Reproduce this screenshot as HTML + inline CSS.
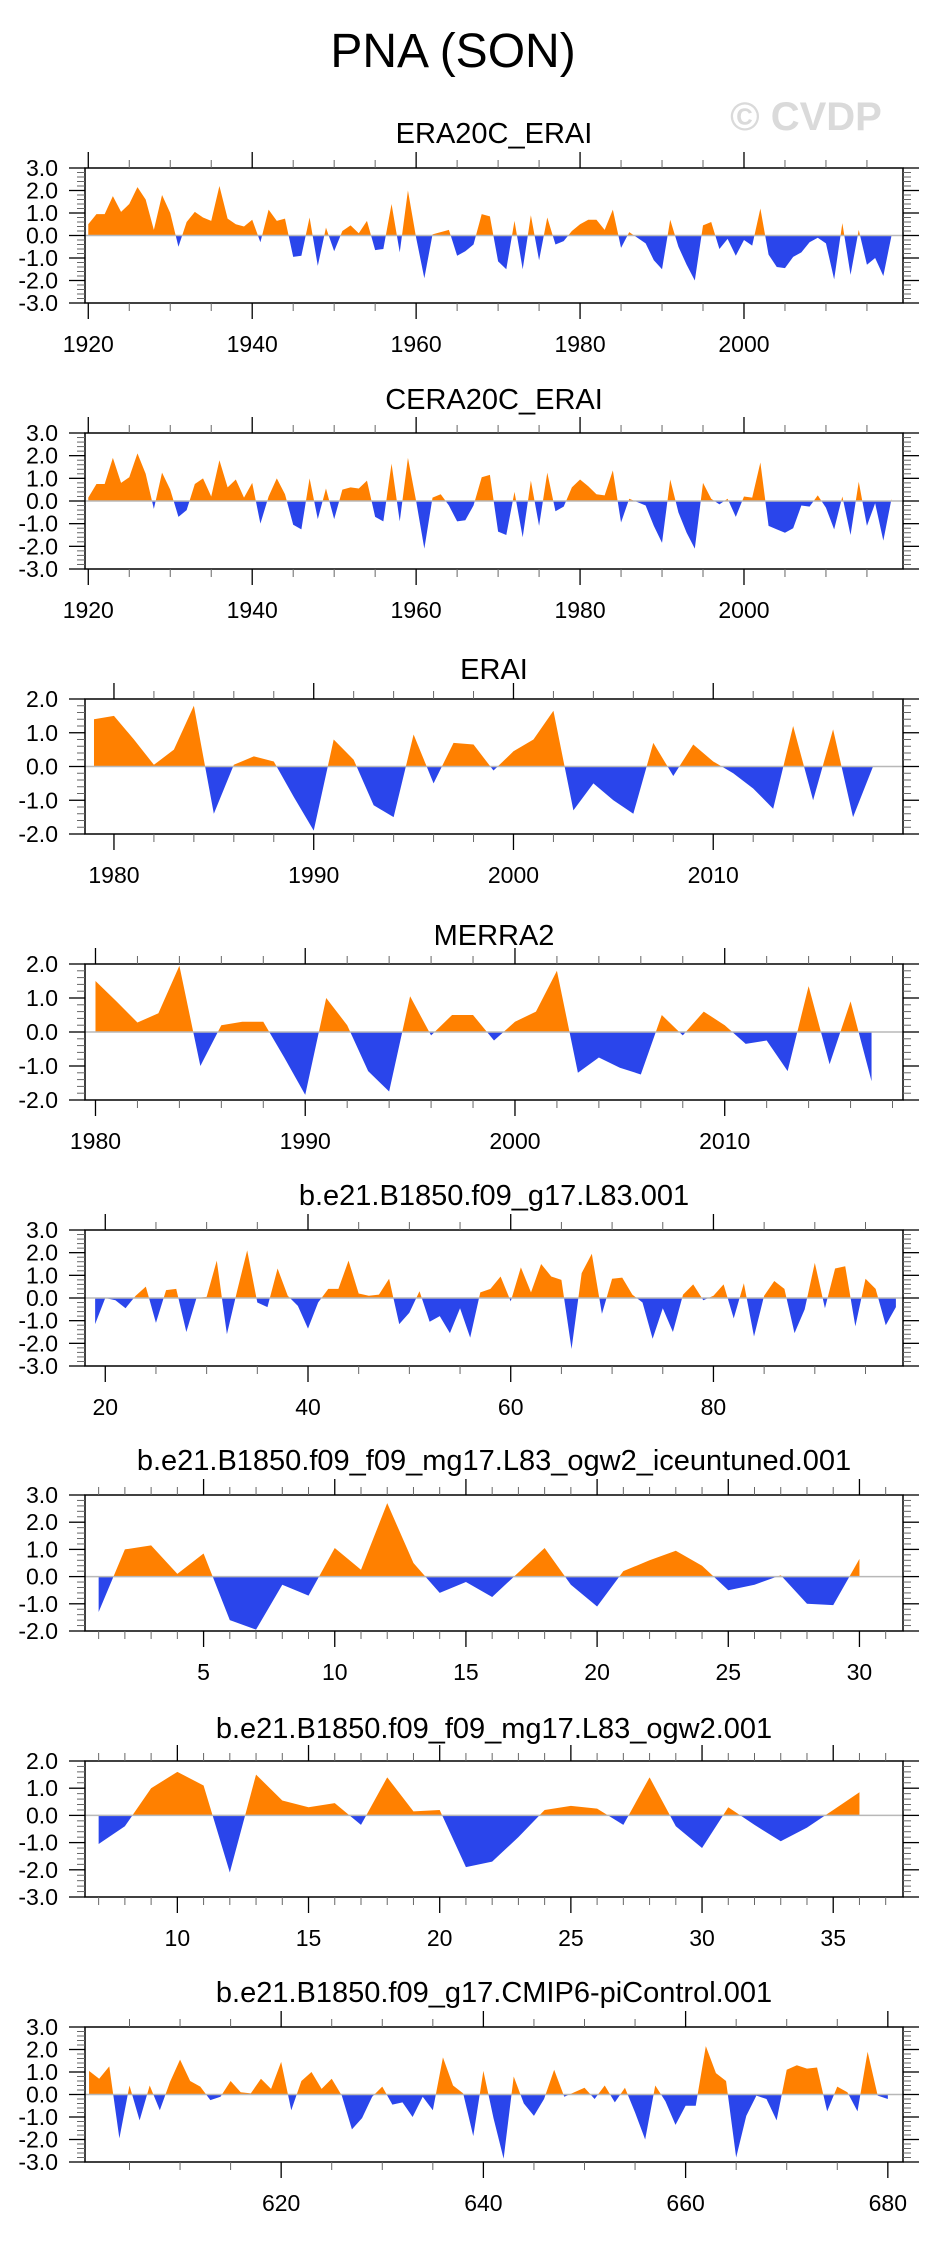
<!DOCTYPE html>
<html><head><meta charset="utf-8">
<style>
html,body{margin:0;padding:0;background:#fff;}
svg{display:block;font-family:"Liberation Sans",Arial,sans-serif;}
</style></head>
<body>
<svg id="fig" width="930" height="2241" viewBox="0 0 930 2241" xmlns="http://www.w3.org/2000/svg">
<rect x="0" y="0" width="930" height="2241" fill="#fff"/>
<text x="453" y="67" font-size="48" text-anchor="middle" fill="#000">PNA (SON)</text>
<text x="806" y="130" font-size="40" font-weight="bold" text-anchor="middle" fill="#dadada">© CVDP</text>
<g id="plots"></g>
</svg>
<script>
// ---------- data ----------
const era20cStart = 1920;
const era20cValues = [0.5,0.95,0.95,1.75,1.05,1.4,2.15,1.6,0.25,1.8,1.0,-0.5,0.6,1.05,0.8,0.65,2.2,0.75,0.5,0.4,
0.7,-0.3,1.15,0.65,0.75,-0.95,-0.9,0.8,-1.35,0.35,-0.7,0.2,0.45,0.1,0.65,-0.65,-0.6,1.4,-0.75,2.0,
-0.1,-1.9,0.05,0.15,0.25,-0.9,-0.7,-0.4,0.95,0.85,-1.15,-1.5,0.65,-1.5,0.9,-1.1,0.8,-0.4,-0.25,0.2,
0.5,0.7,0.7,0.25,1.15,-0.55,0.15,-0.1,-0.35,-1.1,-1.5,0.7,-0.5,-1.3,-2.0,0.45,0.6,-0.6,-0.15,-0.9,
-0.2,-0.45,1.2,-0.85,-1.4,-1.45,-0.95,-0.75,-0.3,-0.1,-0.35,-1.95,0.55,-1.75,0.25,-1.3,-1.0,-1.8,0.0];
const cera20cStart = 1920;
const cera20cValues = [0.15,0.75,0.75,1.9,0.8,1.05,2.1,1.2,-0.35,1.25,0.5,-0.7,-0.4,0.75,1.0,0.2,1.8,0.6,0.95,0.15,
0.8,-1.0,0.2,1.0,0.3,-1.05,-1.25,1.0,-0.8,0.55,-0.8,0.5,0.6,0.55,0.9,-0.7,-0.9,1.65,-0.9,1.9,
0.0,-2.1,0.15,0.3,-0.2,-0.9,-0.85,-0.2,1.05,1.15,-1.35,-1.5,0.4,-1.6,0.9,-1.1,1.25,-0.45,-0.25,0.6,
0.95,0.65,0.3,0.25,1.35,-0.95,0.1,-0.05,-0.2,-1.1,-1.85,0.95,-0.5,-1.4,-2.1,0.8,0.1,-0.15,0.1,-0.7,
0.2,0.15,1.7,-1.1,-1.25,-1.4,-1.2,-0.2,-0.25,0.25,-0.3,-1.25,0.2,-1.5,0.85,-1.1,-0.1,-1.75,0.1];
const eraiStart = 1979;
const eraiValues = [1.4,1.5,0.8,0.05,0.5,1.8,-1.4,0.05,0.3,0.15,-0.9,-1.9,0.8,0.2,-1.15,-1.5,0.95,-0.5,0.7,0.65,
-0.12,0.45,0.8,1.65,-1.3,-0.5,-1.0,-1.4,0.7,-0.28,0.65,0.15,-0.2,-0.65,-1.25,1.2,-1.0,1.1,-1.5,0.0];
const merra2Start = 1980;
const merra2Values = [1.5,0.9,0.28,0.55,1.95,-1.0,0.2,0.3,0.3,-0.75,-1.85,1.0,0.2,-1.15,-1.75,1.05,-0.1,0.5,0.5,-0.25,
0.3,0.6,1.8,-1.2,-0.75,-1.05,-1.25,0.5,-0.1,0.6,0.2,-0.35,-0.25,-1.15,1.35,-0.95,0.9,-1.45];
const l83Start = 19;
const l83Values = [-1.15,0.0,-0.1,-0.45,0.1,0.5,-1.1,0.35,0.4,-1.5,0.0,0.05,1.65,-1.6,0.3,2.1,-0.2,-0.4,1.3,0.1,
-0.35,-1.35,-0.2,0.4,0.4,1.65,0.2,0.1,0.15,0.85,-1.15,-0.65,0.3,-1.05,-0.8,-1.55,-0.45,-1.75,0.25,0.4,
0.95,-0.15,1.35,0.25,1.5,0.95,0.8,-2.25,1.1,1.95,-0.7,0.85,0.9,0.15,-0.2,-1.8,-0.45,-1.5,0.15,0.6,
-0.1,0.1,0.6,-0.9,0.65,-1.7,0.1,0.75,0.4,-1.55,-0.5,1.55,-0.45,1.3,1.4,-1.25,0.85,0.4,-1.2,-0.4];
const iceStart = 1;
const iceValues = [-1.3,1.0,1.15,0.1,0.85,-1.6,-1.95,-0.3,-0.7,1.05,0.25,2.7,0.5,-0.6,-0.2,-0.75,0.15,1.05,-0.3,-1.1,
0.2,0.6,0.95,0.4,-0.5,-0.3,0.05,-1.0,-1.05,0.65];
const ogw2Start = 7;
const ogw2Values = [-1.05,-0.4,1.0,1.6,1.1,-2.1,1.5,0.55,0.3,0.45,-0.35,1.4,0.15,0.2,-1.9,-1.7,-0.8,0.2,0.35,0.25,
-0.35,1.4,-0.4,-1.2,0.3,-0.35,-0.95,-0.45,0.2,0.85];
const piStart = 601;
const piValues = [1.05,0.7,1.25,-1.95,0.4,-1.15,0.4,-0.7,0.55,1.55,0.6,0.35,-0.25,-0.1,0.6,0.1,0.05,0.7,0.25,1.45,
-0.7,0.6,1.0,0.25,0.7,-0.05,-1.55,-1.05,-0.1,0.35,-0.45,-0.35,-1.0,-0.1,-0.7,1.65,0.4,0.05,-1.85,1.05,
-1.05,-2.85,0.8,-0.4,-0.95,-0.2,1.1,-0.1,0.1,0.3,-0.2,0.4,-0.35,0.3,-0.8,-2.0,0.4,-0.3,-1.35,-0.5,
-0.5,2.15,0.95,0.6,-2.8,-0.95,-0.05,-0.2,-1.15,1.1,1.3,1.15,1.2,-0.75,0.35,0.1,-0.75,1.9,-0.05,-0.2];
const yTicks3 = [-3,-2,-1,0,1,2,3];
const yTicks2 = [-2,-1,0,1,2];
const yTicks23 = [-2,-1,0,1,2,3];
const yTicks32 = [-3,-2,-1,0,1,2];

const panels = [
 {name:'era20c-erai', title:'ERA20C_ERAI', start:era20cStart, vals:era20cValues, top:168, bot:303, tb:143, xmin:1919.6, xmax:2019.4, ymin:-3, ymax:3, yt:yTicks3, maj:20, mjStart:1920, minStep:5},
 {name:'cera20c-erai', title:'CERA20C_ERAI', start:cera20cStart, vals:cera20cValues, top:433, bot:569, tb:409, xmin:1919.6, xmax:2019.4, ymin:-3, ymax:3, yt:yTicks3, maj:20, mjStart:1920, minStep:5},
 {name:'erai', title:'ERAI', start:eraiStart, vals:eraiValues, top:699, bot:834, tb:679, xmin:1978.55, xmax:2019.5, ymin:-2, ymax:2, yt:yTicks2, maj:10, mjStart:1980, minStep:2},
 {name:'merra2', title:'MERRA2', start:merra2Start, vals:merra2Values, top:964, bot:1100, tb:945, xmin:1979.5, xmax:2018.5, ymin:-2, ymax:2, yt:yTicks2, maj:10, mjStart:1980, minStep:2},
 {name:'l83-001', title:'b.e21.B1850.f09_g17.L83.001', start:l83Start, vals:l83Values, top:1230, bot:1366, tb:1205, xmin:18.0, xmax:98.7, ymin:-3, ymax:3, yt:yTicks3, maj:20, mjStart:20, minStep:5},
 {name:'ogw2-iceuntuned', title:'b.e21.B1850.f09_f09_mg17.L83_ogw2_iceuntuned.001', start:iceStart, vals:iceValues, top:1495, bot:1631, tb:1470, xmin:0.48, xmax:31.66, ymin:-2, ymax:3, yt:yTicks23, maj:5, mjStart:5, minStep:1},
 {name:'ogw2-001', title:'b.e21.B1850.f09_f09_mg17.L83_ogw2.001', start:ogw2Start, vals:ogw2Values, top:1761, bot:1897, tb:1738, xmin:6.48, xmax:37.66, ymin:-3, ymax:2, yt:yTicks32, maj:5, mjStart:10, minStep:1},
 {name:'cmip6-picontrol', title:'b.e21.B1850.f09_g17.CMIP6-piControl.001', start:piStart, vals:piValues, top:2027, bot:2162, tb:2002, xmin:600.6, xmax:681.5, ymin:-3, ymax:3, yt:yTicks3, maj:20, mjStart:620, minStep:5}
];

const NS = 'http://www.w3.org/2000/svg';
const root = document.getElementById('plots');
const L = 85, R = 903, MAJ = 16, MIN = 8;
function mk(parent, tag, attrs) {
  const e = document.createElementNS(NS, tag);
  for (const k in attrs) e.setAttribute(k, attrs[k]);
  parent.appendChild(e);
  return e;
}
function fmt(v){ return v.toFixed(1); }

panels.forEach((p, pi) => {
  const g = mk(root, 'g', {});
  
  
  const X = v => L + (v - p.xmin) / (p.xmax - p.xmin) * (R - L);
  const Y = v => p.top + (p.ymax - v) / (p.ymax - p.ymin) * (p.bot - p.top);
  const y0 = Y(0);

  const t = mk(g, 'text', {x: (L + R) / 2, y: p.tb, 'font-size': 29, 'text-anchor': 'middle', fill: '#000'});
  t.textContent = p.title;
  
  

  const defs = mk(g, 'defs', {});
  const cpA = mk(defs, 'clipPath', {id: 'ca' + pi});
  mk(cpA, 'rect', {x: L, y: p.top, width: R - L, height: y0 - p.top});
  const cpB = mk(defs, 'clipPath', {id: 'cb' + pi});
  mk(cpB, 'rect', {x: L, y: y0, width: R - L, height: p.bot - y0});

  let d = 'M' + X(p.start).toFixed(2) + ' ' + y0.toFixed(2);
  p.vals.forEach((v, i) => { d += ' L' + X(p.start + i).toFixed(2) + ' ' + Y(v).toFixed(2); });
  d += ' L' + X(p.start + p.vals.length - 1).toFixed(2) + ' ' + y0.toFixed(2) + ' Z';
  const pos = mk(g, 'path', {d: d, fill: '#ff8000', 'clip-path': 'url(#ca' + pi + ')'});
  
  
  const neg = mk(g, 'path', {d: d, fill: '#2a45eb', 'clip-path': 'url(#cb' + pi + ')'});
  
  

  const zl = mk(g, 'line', {x1: L, x2: R, y1: y0, y2: y0, stroke: '#b8b8b8', 'stroke-width': 1.5});
  
  

  const fr = mk(g, 'rect', {x: L, y: p.top, width: R - L, height: p.bot - p.top, fill: 'none', stroke: '#000', 'stroke-width': 1.5});
  
  

  for (let k = 0; k < p.yt.length; k++) {
    const v = p.yt[k], yy = Y(v);
    mk(g, 'line', {x1: L - MAJ, x2: L, y1: yy, y2: yy, stroke: '#000', 'stroke-width': 1.3});
    mk(g, 'line', {x1: R, x2: R + MAJ, y1: yy, y2: yy, stroke: '#000', 'stroke-width': 1.3});
    const lb = mk(g, 'text', {x: 58, y: yy + 8, 'font-size': 23, 'text-anchor': 'end', fill: '#000'});
    lb.textContent = fmt(v);
    
    
  }
  for (let m = p.ymin * 5; m <= p.ymax * 5; m++) {
    if (m % 5 === 0) continue;
    const yy = Y(m / 5);
    mk(g, 'line', {x1: L - MIN, x2: L, y1: yy, y2: yy, stroke: '#666', 'stroke-width': 1});
    mk(g, 'line', {x1: R, x2: R + MIN, y1: yy, y2: yy, stroke: '#666', 'stroke-width': 1});
  }
  const first = Math.ceil(p.xmin / p.minStep) * p.minStep;
  for (let v = first; v <= p.xmax; v += p.minStep) {
    const xx = X(v);
    const isMaj = ((v - p.mjStart) % p.maj + p.maj) % p.maj === 0;
    const len = isMaj ? MAJ : MIN;
    const col = isMaj ? '#000' : '#666';
    mk(g, 'line', {x1: xx, x2: xx, y1: p.bot, y2: p.bot + len, stroke: col, 'stroke-width': isMaj ? 1.3 : 1});
    mk(g, 'line', {x1: xx, x2: xx, y1: p.top - len, y2: p.top, stroke: col, 'stroke-width': isMaj ? 1.3 : 1});
    if (isMaj) {
      const lb = mk(g, 'text', {x: xx, y: p.bot + 49, 'font-size': 23, 'text-anchor': 'middle', fill: '#000'});
      lb.textContent = String(v);
      
      
    }
  }
});
</script>
</body></html>
